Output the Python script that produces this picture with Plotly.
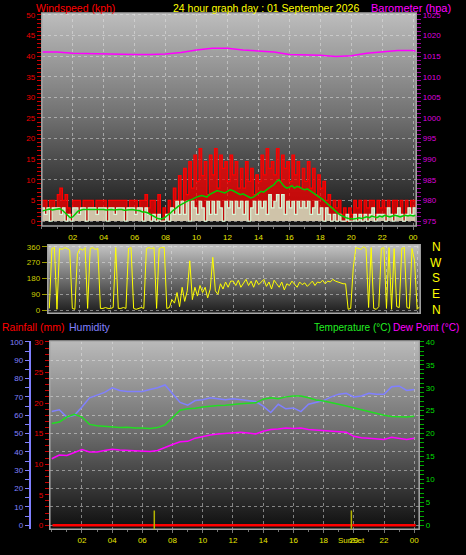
import base64
import plotly.graph_objects as go

W, H = 466, 555

# ---------------- data ----------------
wind_times = [i / 6 for i in range(146)]  # 10-minute samples, hours
gust_kph = [
    5, 5, 3.2, 5, 5, 3.2,
    6.4, 8, 5, 6.4, 3.2, 1.6,
    5, 5, 5, 3.2, 5, 5,
    5, 5, 3.2, 5, 5, 5,
    5, 3.2, 5, 5, 5, 5,
    5, 5, 5, 3.2, 5, 5,
    5, 3.2, 5, 5, 6.4, 3.2,
    5, 5, 1.6, 6.4, 0, 3.2,
    1.6, 5, 3.2, 8, 5, 11,
    4.8, 12.8, 6.4, 14.4, 8, 16,
    9.6, 17.6, 11, 14.4, 6.4, 16,
    11.2, 17.6, 8, 16, 12.8, 14.4,
    9.6, 16, 11.2, 14.4, 8, 12.8,
    8, 14.4, 9.6, 12.8, 6.4, 11.2,
    9.6, 16, 11.2, 17.6, 12.8, 14.4,
    11.2, 17.6, 9.6, 16, 12.8, 14.4,
    9.6, 16, 11.2, 14.4, 8, 12.8,
    9.6, 14.4, 8, 12.8, 6.4, 11.2,
    8, 9.6, 5, 6.4, 3.2, 5,
    3.2, 5, 1.6, 3.2, 0, 3.2,
    1.6, 5, 3.2, 5, 1.6, 5,
    3.2, 5, 5, 1.6, 5, 3.2,
    5, 3.2, 5, 1.6, 5, 5,
    3.2, 5, 1.6, 5, 3.2, 5,
    5, 3.2,
]
wind_kph = [
    3.2, 1.6, 3.2, 0, 3.2, 3.2,
    3.2, 1.6, 3.2, 0, 1.6, 0,
    3.2, 3.2, 1.6, 3.2, 3.2, 0,
    3.2, 3.2, 3.2, 1.6, 3.2, 3.2,
    3.2, 0, 3.2, 3.2, 1.6, 3.2,
    3.2, 3.2, 0, 3.2, 3.2, 3.2,
    1.6, 3.2, 3.2, 0, 3.2, 1.6,
    0, 1.6, 0, 1.6, 0, 0,
    1.6, 0, 3.2, 1.6, 4.8, 1.6,
    4.8, 1.6, 4.8, 0, 4.8, 3.2,
    1.6, 4.8, 3.2, 0, 4.8, 1.6,
    4.8, 1.6, 4.8, 3.2, 0, 4.8,
    3.2, 4.8, 1.6, 4.8, 3.2, 4.8,
    1.6, 4.8, 0, 3.2, 4.8, 1.6,
    4.8, 3.2, 4.8, 1.6, 6.4, 3.2,
    4.8, 6.4, 3.2, 6.4, 1.6, 4.8,
    3.2, 4.8, 1.6, 4.8, 3.2, 4.8,
    3.2, 4.8, 1.6, 3.2, 4.8, 1.6,
    3.2, 0, 3.2, 1.6, 0, 1.6,
    0, 1.6, 0, 0, 1.6, 0,
    0, 1.6, 0, 1.6, 0, 1.6,
    0, 1.6, 3.2, 0, 1.6, 1.6,
    1.6, 0, 3.2, 1.6, 0, 1.6,
    3.2, 1.6, 0, 1.6, 3.2, 1.6,
    3.2, 1.6,
]
avg_kph = [
    2.4, 2.6, 2.8, 2.9, 2.7, 2.8,
    2.9, 3.0, 2.6, 2.0, 1.2, 0.8,
    1.0, 1.8, 2.4, 2.6, 2.8, 2.8,
    2.8, 2.9, 2.8, 2.8, 2.9, 2.8,
    2.8, 2.7, 2.8, 2.8, 2.7, 2.8,
    2.8, 2.8, 2.6, 2.7, 2.8, 2.8,
    2.7, 2.6, 2.5, 2.2, 2.2, 2.0,
    1.6, 1.2, 0.8, 0.6, 0.5, 0.6,
    1.0, 1.4, 2.0, 2.6, 3.2, 3.6,
    4.0, 4.4, 4.8, 5.0, 5.2, 5.6,
    5.8, 6.0, 6.2, 6.0, 5.8, 6.4,
    6.8, 7.0, 7.4, 7.2, 7.0, 6.8,
    7.2, 7.6, 7.4, 7.0, 6.6, 6.4,
    6.6, 6.2, 5.8, 5.6, 5.8, 6.2,
    6.8, 7.2, 7.0, 7.6, 8.0, 8.4,
    8.8, 9.6, 10.0, 9.2, 8.4, 8.0,
    8.2, 8.6, 8.0, 8.4, 8.2, 7.8,
    7.6, 7.8, 7.4, 7.0, 6.6, 6.2,
    5.8, 5.2, 4.6, 4.0, 3.4, 2.8,
    2.2, 1.8, 1.4, 1.0, 0.8, 0.6,
    0.5, 0.5, 0.6, 0.8, 0.6, 0.8,
    1.0, 0.8, 1.2, 1.0, 0.8, 1.2,
    1.0, 1.4, 1.2, 1.0, 1.2, 1.4,
    1.2, 1.0, 1.2, 1.4, 1.2, 1.4,
    1.2, 1.4,
]
dir_deg = [
    10, 350, 355, 5, 350, 345,
    355, 350, 340, 10, 5, 320,
    350, 340, 355, 10, 350, 355,
    345, 350, 10, 10, 15, 10,
    10, 15, 355, 10, 10, 15,
    10, 350, 355, 10, 5, 10,
    15, 10, 350, 355, 350, 355,
    10, 350, 355, 355, 10, 15,
    60, 40, 100, 20, 130, 50,
    110, 280, 60, 130, 80, 140,
    100, 130, 70, 120, 300, 110,
    90, 150, 120, 160, 130, 165,
    165, 140, 170, 130, 155, 175,
    140, 165, 130, 170, 145, 160,
    175, 135, 160, 120, 170, 150,
    130, 160, 115, 150, 140, 165,
    150, 130, 160, 145, 155, 135,
    150, 165, 140, 160, 155, 170,
    150, 165, 160, 175, 165, 160,
    155, 150, 150, 5, 10, 240,
    355, 350, 345, 360, 350, 15,
    355, 10, 5, 20, 350, 355,
    10, 355, 5, 350, 20, 15,
    350, 355, 15, 10, 350, 280,
    5, 20,
]
baro_times = [0, 1, 2, 3, 4, 5, 6, 7, 8, 9, 10, 11, 12, 13, 14, 15, 16, 17, 18,
              19, 20, 21, 22, 23, 24, 24.2]
baro_hpa = [1016.0, 1016.0, 1015.7, 1015.6, 1015.6, 1015.5, 1015.4, 1015.4, 1015.5,
            1015.9, 1016.5, 1016.9, 1016.9, 1016.5, 1016.3, 1016.0, 1015.4, 1015.3,
            1015.2, 1014.9, 1015.1, 1015.7, 1016.1, 1016.4, 1016.4, 1016.2]

env_times = [i / 2 for i in range(49)]  # half-hour samples
humidity = [62, 63, 59, 60, 64.5, 69.5, 71, 72.5, 75, 73.5, 73, 73, 73, 74, 75, 76.5,
            72, 67, 65.5, 68, 68.5, 69.5, 69, 68.5, 69, 68.5, 68, 67.5, 65, 61.5,
            66, 63.5, 64, 62, 66, 67, 68, 70, 71.5, 72, 70, 70.5, 72, 71.5, 71.5,
            75.5, 76, 73.5, 74]
temperature = [22.2, 22.5, 23.6, 24.2, 23.6, 22.0, 21.7, 21.6, 21.4, 21.3, 21.4, 21.2,
               21.2, 21.1, 21.3, 21.9, 23.5, 25.1, 25.4, 25.5, 25.8, 26.0, 26.1, 26.2,
               26.4, 26.5, 26.6, 26.7, 27.5, 27.8, 27.6, 28.0, 28.2, 28.2, 27.8, 27.3,
               27.1, 26.8, 26.4, 26.0, 25.6, 25.1, 24.7, 24.3, 24.0, 23.7, 23.6, 23.6,
               23.8]
dewpoint = [14.5, 15.3, 15.2, 15.9, 16.5, 16.0, 16.0, 16.3, 16.6, 16.4, 16.3, 16.2,
            16.1, 16.1, 16.3, 17.0, 17.6, 18.2, 18.3, 19.0, 19.4, 19.7, 19.9, 20.0,
            20.2, 20.3, 20.1, 19.9, 20.5, 20.9, 21.0, 21.2, 21.1, 21.2, 20.9, 20.8,
            20.7, 20.6, 20.4, 20.3, 19.4, 19.1, 19.0, 18.9, 18.7, 19.2, 19.0, 18.7,
            19.0]
rain_times = [0.05, 24.1]
rain_mm = [0, 0]
sun_events = [6.79, 19.84]
sun_labels = ["", "SunSet"]

hour_ticks = [2, 4, 6, 8, 10, 12, 14, 16, 18, 20, 22, 24]
hour_labels = ["02", "04", "06", "08", "10", "12", "14", "16", "18", "20", "22", "00"]
dir_ticks = [0, 90, 180, 270, 360]
dir_letters = ["N", "E", "S", "W", "N"]

# ---------------- styling ----------------
TFONT = "Liberation Sans"
RED = "#ee0000"
MAG = "#ff00ff"
YEL = "#e6e600"
DIRY = "#cccc00"
GRN = "#22dd22"
HUM = "#8080ff"
GRID = "rgba(230,230,230,0.5)"


def gradient(stops):
    st = "".join(f"<stop offset='{o}' stop-color='{c}'/>" for o, c in stops)
    svg = ("<svg xmlns='http://www.w3.org/2000/svg' width='10' height='100' "
           "viewBox='0 0 10 100' preserveAspectRatio='none'><defs>"
           "<linearGradient id='g' x1='0' y1='0' x2='0' y2='1'>" + st +
           "</linearGradient></defs><rect width='10' height='100' fill='url(#g)'/></svg>")
    return "data:image/svg+xml;base64," + base64.b64encode(svg.encode()).decode()


def box(x0, x1, y0, y1):
    return dict(x0=x0 / W, x1=x1 / W, y0=1 - y1 / H, y1=1 - y0 / H)


top_box = box(42, 418, 10, 225)
dir_box = box(48, 422, 244, 313)
bot_box = box(50, 421, 341, 531)

fig = go.Figure()

# top panel
fig.add_trace(go.Scatter(x=wind_times, y=gust_kph, mode="lines",
                         line=dict(color="#ff0000", width=1.2, shape="hv"),
                         fill="tozeroy", fillcolor="rgba(250,0,0,0.75)",
                         xaxis="x", yaxis="y"))
fig.add_trace(go.Scatter(x=wind_times, y=wind_kph, mode="lines",
                         line=dict(color="#d8f8d8", width=1.2, shape="hv"),
                         fill="tozeroy", fillcolor="rgba(210,242,210,0.8)",
                         xaxis="x", yaxis="y"))
fig.add_trace(go.Scatter(x=wind_times, y=avg_kph, mode="lines", line=dict(color="#00cc00", width=1.5),
                         xaxis="x", yaxis="y"))
fig.add_trace(go.Scatter(x=baro_times, y=baro_hpa, mode="lines", line=dict(color=MAG, width=1.5),
                         xaxis="x", yaxis="y2"))
# direction panel
fig.add_trace(go.Scatter(x=wind_times, y=dir_deg, mode="lines", line=dict(color="#ffff00", width=1),
                         xaxis="x2", yaxis="y3"))
# bottom panel
fig.add_trace(go.Scatter(x=rain_times, y=rain_mm, mode="lines", line=dict(color="#ff0000", width=2.5),
                         xaxis="x3", yaxis="y4"))
fig.add_trace(go.Scatter(x=env_times, y=humidity, mode="lines", line=dict(color=HUM, width=1.5),
                         xaxis="x3", yaxis="y5"))
fig.add_trace(go.Scatter(x=env_times, y=temperature, mode="lines", line=dict(color=GRN, width=1.5),
                         xaxis="x3", yaxis="y6"))
fig.add_trace(go.Scatter(x=env_times, y=dewpoint, mode="lines", line=dict(color=MAG, width=1.5),
                         xaxis="x3", yaxis="y6"))

tickfont = lambda c: dict(family=TFONT, size=8, color=c)

layout = dict(
    width=W, height=H, margin=dict(l=0, r=0, t=0, b=0),
    paper_bgcolor="black", plot_bgcolor="rgba(0,0,0,0)", showlegend=False,
    font=dict(family=TFONT),
    xaxis=dict(domain=[top_box["x0"], top_box["x1"]], range=[0, 24.2], anchor="y",
               tickvals=hour_ticks, ticktext=hour_labels, tickfont=tickfont(YEL),
               ticks="outside", ticklen=3, tickcolor="#777777",
               showgrid=True, gridcolor=GRID, griddash="dot", zeroline=False,
               minor=dict(dtick=1, ticks="outside", ticklen=2, tickcolor="#777777", showgrid=False)),
    yaxis=dict(domain=[top_box["y0"], top_box["y1"]], range=[-1.2, 50.5], anchor="x",
               tickvals=list(range(0, 51, 5)), tickfont=tickfont(RED),
               ticks="outside", ticklen=4, tickcolor="#cc0000",
               showgrid=True, gridcolor=GRID, griddash="dot", zeroline=False,
               minor=dict(dtick=1, tick0=0, ticks="outside", ticklen=4, tickcolor="#cc0000", showgrid=False)),
    yaxis2=dict(overlaying="y", side="right", anchor="x", range=[973.8, 1025.5],
                tickvals=list(range(975, 1026, 5)), tickfont=tickfont("#dd00dd"),
                ticks="outside", ticklen=4, tickcolor="#990099", showgrid=False, zeroline=False,
                minor=dict(dtick=1, tick0=975, ticks="outside", ticklen=4, tickcolor="#990099")),
    xaxis2=dict(domain=[dir_box["x0"], dir_box["x1"]], range=[-0.1, 24.2], anchor="y3",
                tickvals=hour_ticks, showticklabels=False, ticks="",
                showgrid=True, gridcolor=GRID, griddash="dot", zeroline=False),
    yaxis3=dict(domain=[dir_box["y0"], dir_box["y1"]], range=[-17, 371], anchor="x2",
                tickvals=dir_ticks, tickfont=tickfont(DIRY),
                ticks="outside", ticklen=5, tickcolor="#999900",
                showgrid=True, gridcolor=GRID, griddash="dot", zeroline=False),
    xaxis3=dict(domain=[bot_box["x0"], bot_box["x1"]], range=[-0.13, 24.33], anchor="y4",
                tickvals=hour_ticks, ticktext=hour_labels, tickfont=tickfont(YEL),
                ticks="outside", ticklen=3, tickcolor="#777777",
                showgrid=True, gridcolor=GRID, griddash="dot", zeroline=False,
                minor=dict(dtick=1, ticks="outside", ticklen=2, tickcolor="#777777", showgrid=False)),
    yaxis4=dict(domain=[bot_box["y0"], bot_box["y1"]], range=[-0.65, 30.16], anchor="x3",
                tickvals=list(range(0, 31, 5)), tickfont=tickfont(RED),
                ticks="outside", ticklen=4, tickcolor="#cc0000", showgrid=False, zeroline=False,
                minor=dict(dtick=1, tick0=0, ticks="outside", ticklen=4, tickcolor="#cc0000")),
    yaxis5=dict(overlaying="y4", anchor="free", position=30 / W, side="left",
                range=[-2.16, 100.54], tickvals=list(range(0, 101, 10)), tickfont=tickfont(HUM),
                ticks="outside", ticklen=4, tickcolor=HUM, showline=True, linecolor=HUM, linewidth=2,
                showgrid=True, gridcolor=GRID, griddash="dot", zeroline=False,
                minor=dict(dtick=5, tick0=0, ticks="outside", ticklen=4, tickcolor=HUM, showgrid=False)),
    yaxis6=dict(overlaying="y4", side="right", anchor="x3", range=[-0.86, 40.2],
                tickvals=list(range(0, 41, 5)), tickfont=tickfont("#00dd00"),
                ticks="outside", ticklen=4, tickcolor="#00aa00", showgrid=False, zeroline=False,
                minor=dict(dtick=1, tick0=0, ticks="outside", ticklen=4, tickcolor="#00aa00")),
)
fig.update_layout(**layout)

# gradient backgrounds
images = []
for b, stops in [(top_box, [(0, "#bdbdbd"), (0.5, "#6e6e6e"), (1, "#121212")]),
                 (dir_box, [(0, "#c4c4c4"), (0.5, "#707070"), (1, "#1c1c1c")]),
                 (bot_box, [(0, "#bababa"), (0.5, "#6a6a6a"), (1, "#0e0e0e")])]:
    images.append(dict(source=gradient(stops), xref="paper", yref="paper",
                       x=b["x0"], y=b["y1"], sizex=b["x1"] - b["x0"], sizey=b["y1"] - b["y0"],
                       sizing="stretch", xanchor="left", yanchor="top", layer="below"))
fig.update_layout(images=images)

shapes = []
for b in (top_box, dir_box, bot_box):
    shapes.append(dict(type="rect", xref="paper", yref="paper", x0=b["x0"], x1=b["x1"],
                       y0=b["y0"], y1=b["y1"], line=dict(color="#a8a8a8", width=1.5), layer="above"))
for t in sun_events:
    shapes.append(dict(type="line", xref="x3", yref="y4 domain", x0=t, x1=t, y0=0, y1=0.1,
                       line=dict(color="#b4b400", width=1.5)))
fig.update_layout(shapes=shapes)

ann = []
def label(text, x, y, color, size=10.5, xanchor="left"):
    ann.append(dict(text=text, x=x / W, y=1 - y / H, xref="paper", yref="paper",
                    xanchor=xanchor, yanchor="middle", showarrow=False,
                    font=dict(family=TFONT, size=size, color=color)))

label("Windspeed (kph)", 34, 5, "#ff0000")
label("24 hour graph day : 01 September 2026", 172, 5, "#ffff00")
label("Barometer (hpa)", 371, 5, MAG, size=11)
label("Rainfall (mm)", 0, 327, "#ff0000")
label("Humidity", 67, 327, HUM)
label("Temperature (°C)", 313, 327, "#22ee22", size=10)
label("Dew Point (°C)", 393, 327, MAG, size=10)
for v, letter in zip(dir_ticks, dir_letters):
    ann.append(dict(text=letter, x=438 / W, y=v, xref="paper", yref="y3",
                    xanchor="center", yanchor="middle", showarrow=False,
                    font=dict(family=TFONT, size=12, color="#ffff00")))
for t, s in zip(sun_events, sun_labels):
    if s:
        ann.append(dict(text=s, x=t, y=1 - 542 / H, xref="x3", yref="paper",
                        xanchor="center", yanchor="middle", showarrow=False,
                        font=dict(family=TFONT, size=8, color=YEL)))
fig.update_layout(annotations=ann)

fig.write_html("out.html", config=dict(displayModeBar=False),
               post_script="document.body.style.margin='0';document.body.style.overflow='hidden';")
